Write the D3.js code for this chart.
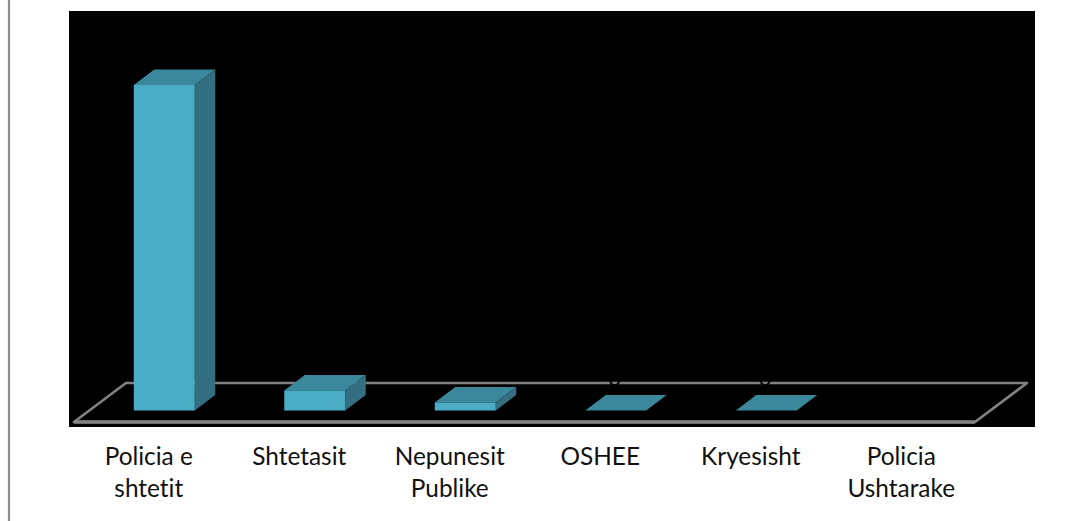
<!DOCTYPE html>
<html><head><meta charset="utf-8">
<script src="https://cdn.jsdelivr.net/npm/d3@7"></script>
<style>html,body{margin:0;padding:0;background:#fff;overflow:hidden}svg{display:block}text{font-variant-ligatures:none}</style>
</head><body><svg id="c" width="1082" height="521"></svg>
<script>
const categories = [["Policia e","shtetit"],["Shtetasit"],["Nepunesit","Publike"],["OSHEE"],["Kryesisht"],["Policia","Ushtarake"]];
const values = [81,5,2,0,0,0];
const hasBar = [true,true,true,true,true,false];
const dataLabels = ["81","5","2","0","0",""];

const svg = d3.select("#c");
const x = d3.scaleBand().domain(d3.range(categories.length)).range([89,992]).paddingInner(0.595).paddingOuter(0.2975);
const y = d3.scaleLinear().domain([0,81]).range([410.5,85]);
const dx = 20.5, dy = 15.5;
const front="#4bacc6", top_="#3b879c", side="#336f80";

svg.append("rect").attr("x",9).attr("y",-4).attr("width",1100).attr("height",540)
  .attr("fill","#fff").attr("stroke","#8c8c8c").attr("stroke-width",2.2);
svg.append("rect").attr("x",69).attr("y",11).attr("width",966).attr("height",416).attr("fill","#000");

// floor
const line = d3.line();
svg.append("path").attr("d",line([[74,422],[975,422],[1027,383],[126,383]])+"Z")
  .attr("fill","none").attr("stroke","#828282").attr("stroke-width",2.6).attr("stroke-linejoin","round");
svg.append("path").attr("d",line([[74,422],[975,422]]))
  .attr("fill","none").attr("stroke","#828282").attr("stroke-width",3.4);

// bars
const g = svg.append("g").selectAll("g").data(values.map((v,i)=>({v,i})).filter(d=>hasBar[d.i])).join("g");
const bw = x.bandwidth();
g.append("path").attr("fill",top_).attr("d",d=>{const a=x(d.i),t=y(d.v);
  return line([[a,t],[a+bw,t],[a+bw+dx,t-dy],[a+dx,t-dy]])+"Z";});
g.filter(d=>d.v>0).append("path").attr("fill",side).attr("d",d=>{const a=x(d.i)+bw,t=y(d.v),b=y(0);
  return line([[a,t],[a+dx,t-dy],[a+dx,b-dy],[a,b]])+"Z";});
g.filter(d=>d.v>0).append("rect").attr("fill",front)
  .attr("x",d=>x(d.i)).attr("width",bw).attr("y",d=>y(d.v)).attr("height",d=>y(0)-y(d.v));

// data labels (black on black in the reference)
svg.append("g").selectAll("text").data(dataLabels).join("text")
  .attr("x",(d,i)=>x(i)+bw/2-1).attr("y",(d,i)=>y(values[i])-dy-9)
  .attr("text-anchor","middle").attr("font-family","Lato, sans-serif").attr("font-size",22)
  .attr("fill","#000").text(d=>d);

// category labels
const lab = svg.append("g").selectAll("text").data(categories).join("text")
  .attr("font-family","Lato, sans-serif").attr("font-size",24.4).attr("fill","#111").attr("text-anchor","middle");
lab.each(function(d,i){
  d3.select(this).selectAll("tspan").data(d).join("tspan")
    .attr("x",x(i)+bw/2-15.5).attr("y",(t,j)=>464.5+j*32.5).text(t=>t);
});
</script></body></html>
